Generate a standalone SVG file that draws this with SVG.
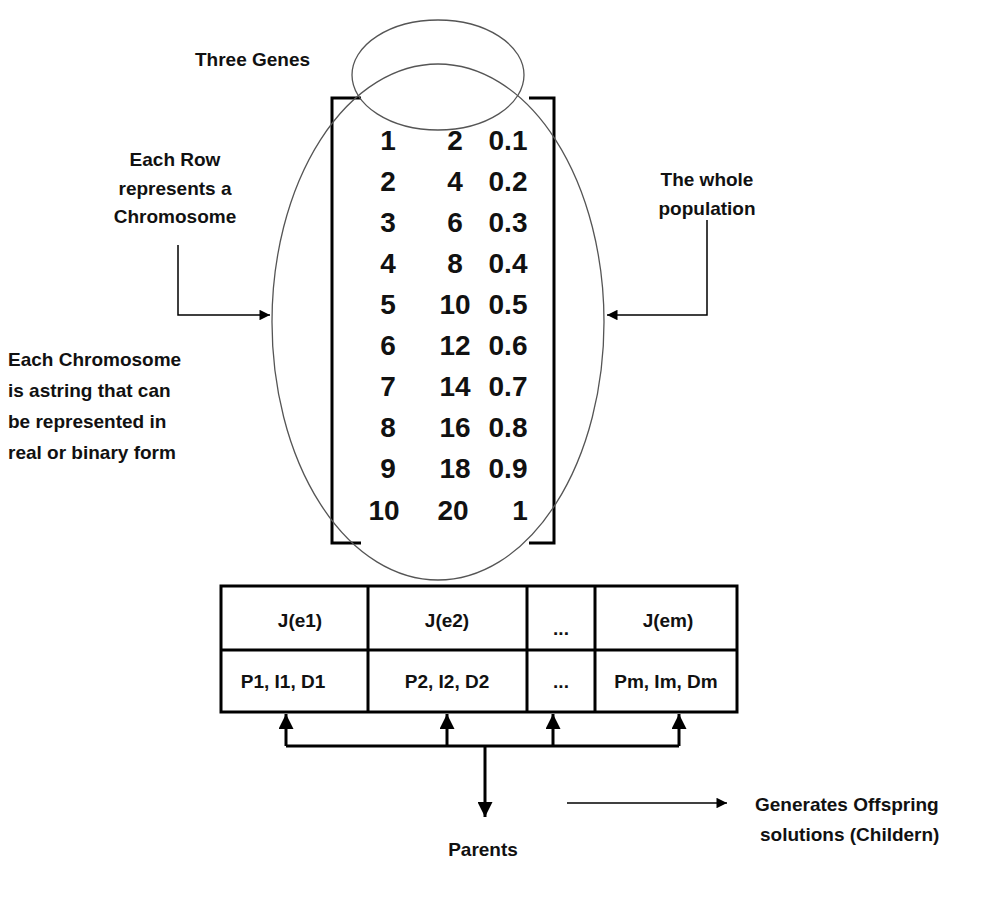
<svg xmlns="http://www.w3.org/2000/svg" width="990" height="900" viewBox="0 0 990 900">
<style>
text{font-family:"Liberation Sans",Arial,sans-serif;font-weight:bold;fill:#111}
.l{font-size:19px}
.n{font-size:28px;text-anchor:middle}
.t{font-size:19px;text-anchor:middle}
.ln{fill:none;stroke:#000;stroke-width:3}
.el{fill:none;stroke:#555;stroke-width:1.3}
</style>
<defs>
<marker id="a" viewBox="0 0 10 10" refX="10" refY="5" markerWidth="5" markerHeight="5" orient="auto"><path d="M0,0L10,5L0,10z" fill="#000"/></marker>
<marker id="b" viewBox="0 0 10 10" refX="10" refY="5" markerWidth="9" markerHeight="7" orient="auto"><path d="M0,0L10,5L0,10z" fill="#000"/></marker>
</defs>
<rect width="990" height="900" fill="#fff"/>
<g id="population">
<path class="ln" d="M361,98H332V543H361M529,98H554V543H529"/>
<ellipse class="el" cx="438" cy="75" rx="86" ry="55"/>
<ellipse class="el" cx="438" cy="322" rx="166" ry="258"/>
<g class="n">
<text x="388" y="150">1</text><text x="455" y="150">2</text><text x="508" y="150">0.1</text>
<text x="388" y="191">2</text><text x="455" y="191">4</text><text x="508" y="191">0.2</text>
<text x="388" y="232">3</text><text x="455" y="232">6</text><text x="508" y="232">0.3</text>
<text x="388" y="273">4</text><text x="455" y="273">8</text><text x="508" y="273">0.4</text>
<text x="388" y="314">5</text><text x="455" y="314">10</text><text x="508" y="314">0.5</text>
<text x="388" y="355">6</text><text x="455" y="355">12</text><text x="508" y="355">0.6</text>
<text x="388" y="396">7</text><text x="455" y="396">14</text><text x="508" y="396">0.7</text>
<text x="388" y="437">8</text><text x="455" y="437">16</text><text x="508" y="437">0.8</text>
<text x="388" y="478">9</text><text x="455" y="478">18</text><text x="508" y="478">0.9</text>
<text x="384" y="520">10</text><text x="453" y="520">20</text><text x="520" y="520">1</text>
</g>
</g>
<g id="labels">
<text class="l" x="195" y="66">Three  Genes</text>
<text class="l" text-anchor="middle"><tspan x="175" y="166">Each Row</tspan><tspan x="175" y="195">represents a</tspan><tspan x="175" y="223">Chromosome</tspan></text>
<text class="l" text-anchor="middle"><tspan x="707" y="186">The whole</tspan><tspan x="707" y="215">population</tspan></text>
<text class="l"><tspan x="8" y="366">Each Chromosome</tspan><tspan x="8" y="397">is astring that can</tspan><tspan x="8" y="428">be represented in</tspan><tspan x="8" y="459">real or binary form</tspan></text>
<text class="l" text-anchor="middle" x="483" y="856">Parents</text>
<text class="l"><tspan x="755" y="811">Generates Offspring</tspan><tspan x="760" y="841">solutions (Childern)</tspan></text>
</g>
<g id="table">
<rect class="ln" x="221" y="586" width="516" height="126"/>
<path class="ln" d="M221,650H737M368,586V712M527,586V712M595,586V712"/>
<text class="t" x="300" y="627">J(e1)</text>
<text class="t" x="447" y="627">J(e2)</text>
<text class="t" x="561" y="635">...</text>
<text class="t" x="668" y="627">J(em)</text>
<text class="t" x="283" y="688">P1, I1, D1</text>
<text class="t" x="447" y="688">P2, I2, D2</text>
<text class="t" x="561" y="688">...</text>
<text class="t" x="666" y="688">Pm, Im, Dm</text>
</g>
<g id="connectors" fill="none" stroke="#000">
<path stroke-width="1.5" d="M178,245V315H270" marker-end="url(#b)"/>
<path stroke-width="1.5" d="M707,220V315H607" marker-end="url(#b)"/>
<path stroke-width="3" d="M286,746H679"/>
<path stroke-width="3" d="M286,746V714" marker-end="url(#a)"/>
<path stroke-width="3" d="M447,746V714" marker-end="url(#a)"/>
<path stroke-width="3" d="M553,746V714" marker-end="url(#a)"/>
<path stroke-width="3" d="M679,746V714" marker-end="url(#a)"/>
<path stroke-width="3" d="M485,746V817" marker-end="url(#a)"/>
<path stroke-width="1.5" d="M567,803H727" marker-end="url(#b)"/>
</g>
</svg>
